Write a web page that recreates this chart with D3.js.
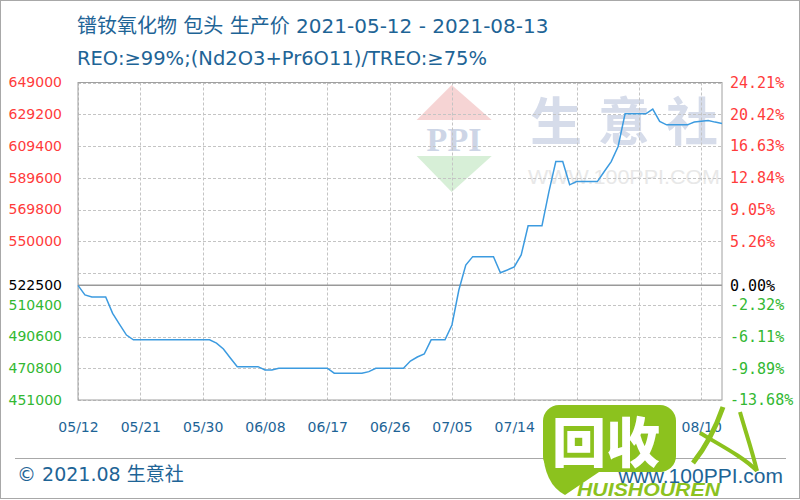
<!DOCTYPE html>
<html><head><meta charset="utf-8">
<script src="https://cdn.jsdelivr.net/npm/d3@7"></script>
<style>body{margin:0;background:#fff} svg{display:block}</style>
</head><body>
<svg id="c" width="800" height="500"></svg>
<script>
const dates = [
"05-12","05-13","05-14","05-15","05-16","05-17","05-18","05-19","05-20","05-21","05-22","05-23","05-24","05-25","05-26","05-27","05-28","05-29","05-30","05-31",
"06-01","06-02","06-03","06-04","06-05","06-06","06-07","06-08","06-09","06-10","06-11","06-12","06-13","06-14","06-15","06-16","06-17","06-18","06-19","06-20","06-21","06-22","06-23","06-24","06-25","06-26","06-27","06-28","06-29","06-30",
"07-01","07-02","07-03","07-04","07-05","07-06","07-07","07-08","07-09","07-10","07-11","07-12","07-13","07-14","07-15","07-16","07-17","07-18","07-19","07-20","07-21","07-22","07-23","07-24","07-25","07-26","07-27","07-28","07-29","07-30","07-31",
"08-01","08-02","08-03","08-04","08-05","08-06","08-07","08-08","08-09","08-10","08-11","08-12","08-13"];
const prices = [
522500,516500,515300,515300,515300,
505000,498100,491500,488500,
488500,488500,488500,488500,488500,488500,488500,488500,488500,488500,488500,
486500,482800,477200,471800,
471800,471800,471800,
469700,469700,
470800,470800,470800,470800,470800,470800,470800,470800,
467700,467700,467700,467700,467700,
468700,
470800,470800,470800,470800,470800,
475300,477800,479700,
488500,488500,488500,
497800,519600,535200,540400,
540400,540400,540400,
530400,532100,534000,541500,
559600,559600,559600,
580800,599700,599700,
585200,
587200,587200,587200,587200,
593500,599700,609100,
629500,629500,629500,629500,
632400,
624700,
622600,622600,622600,622600,
624300,624800,625300,624300,623500];
const basePrice = 522500;
const yTickValues = [451000,470800,490600,510400,522500,550000,569800,589600,609400,629200,649000];
const yGridValues = [451000,470800,490600,510400,530200,550000,569800,589600,609400,629200,649000];
const xTickLabels = ["05/12","05/21","05/30","06/08","06/17","06/26","07/05","07/14","07/23","08/01","08/10"];
const titleText = "镨钕氧化物 包头 生产价 2021-05-12 - 2021-08-13";
const subtitleText = "REO:≥99%;(Nd2O3+Pr6O11)/TREO:≥75%";
const footerText = "© 2021.08 生意社";
const siteText = "www.100PPI.com";

const svg = d3.select("#c");
const L = 78, R = 722, T = 82.5, B = 400;
const parse = d3.timeParse("%Y-%m-%d");
const dx = dates.map(d => parse("2021-" + d));
const x = d3.scaleTime().domain([dx[0], dx[dx.length-1]]).range([L, R]);
const y = d3.scaleLinear().domain([451000, 649000]).range([B, T]);
const xTickDates = xTickLabels.map(s => parse("2021-" + s.replace("/", "-")));

const blue = "#1e6496";
const mixFont = "'DejaVu Sans', 'Noto Sans CJK SC', sans-serif";
// outer border
svg.append("rect").attr("x",0.5).attr("y",0.5).attr("width",799).attr("height",498)
  .attr("fill","#fff").attr("stroke","#a8a8a8");

// title
svg.append("text").attr("x",77).attr("y",33).attr("fill",blue)
  .style("font-family",mixFont).style("font-size","20px").text(titleText);
svg.append("text").attr("x",77).attr("y",65).attr("fill",blue)
  .style("font-family",mixFont).style("font-size","19.5px").text(subtitleText);

// watermark
const wm = svg.append("g");
wm.append("path").attr("d","M451.7,85 L491.7,120 L416.7,120 Z").attr("fill","#f6d4d4");
wm.append("path").attr("d","M416.7,156 L491.7,156 L451.7,192 Z").attr("fill","#d7efd7");
wm.append("text").attr("x",454).attr("y",151).attr("text-anchor","middle").attr("fill","#cdd5e6")
  .style("font-family","'Liberation Serif', serif").style("font-weight","bold").style("font-size","34px").text("PPI");
wm.append("text").attr("x",530).attr("y",141).attr("fill","#d6dcea")
  .style("font-family","'Noto Sans CJK SC', sans-serif").style("font-weight","bold").style("font-size","52px")
  .style("letter-spacing","16px").text("生意社");
wm.append("text").attr("x",528).attr("y",184).attr("fill","#e8e8e8")
  .attr("textLength",192).attr("lengthAdjust","spacingAndGlyphs")
  .style("font-family","'Liberation Sans', sans-serif").style("font-size","21px").text("WWW.100PPI.COM");

// grid
svg.append("g").selectAll("line").data(yGridValues).join("line")
  .attr("x1",L).attr("x2",R).attr("y1",d=>Math.round(y(d))+0.5).attr("y2",d=>Math.round(y(d))+0.5)
  .attr("stroke","#c4c4c4").attr("stroke-dasharray","3,2");
svg.append("g").selectAll("line").data(xTickDates).join("line")
  .attr("y1",T).attr("y2",B).attr("x1",d=>Math.round(x(d))+0.5).attr("x2",d=>Math.round(x(d))+0.5)
  .attr("stroke","#c4c4c4").attr("stroke-dasharray","3,2");
// base line
svg.append("line").attr("x1",L).attr("x2",R).attr("y1",y(basePrice)).attr("y2",y(basePrice))
  .attr("stroke","#999").attr("stroke-width",1.5);
// plot border
svg.append("rect").attr("x",L).attr("y",T).attr("width",R-L).attr("height",B-T)
  .attr("fill","none").attr("stroke","#a0a0a0");

// line
const line = d3.line().x((d,i)=>x(dx[i])).y(d=>y(d));
svg.append("path").datum(prices).attr("d",line).attr("fill","none")
  .attr("stroke","#3c9be0").attr("stroke-width",1.5);

const col = v => v > basePrice ? "#ff3c3c" : (v < basePrice ? "#33b833" : "#000");
// left axis
const ax = svg.append("g").attr("transform",`translate(${L},0)`)
  .call(d3.axisLeft(y).tickValues(yTickValues).tickSize(0).tickPadding(16).tickFormat(d3.format("d")));
ax.select(".domain").remove();
ax.selectAll("text").attr("fill",d=>col(d)).style("font-family","'DejaVu Sans', sans-serif").style("font-size","14px");
// right axis
const ar = svg.append("g").attr("transform",`translate(${R},0)`)
  .call(d3.axisRight(y).tickValues(yTickValues).tickSize(0).tickPadding(8)
    .tickFormat(d => ((d-basePrice)/basePrice*100).toFixed(2) + "%"));
ar.select(".domain").remove();
ar.selectAll("text").attr("fill",d=>col(d)).style("font-family","'DejaVu Sans Mono', monospace").style("font-size","15px");
// bottom axis
const ab = svg.append("g").attr("transform",`translate(0,${B})`)
  .call(d3.axisBottom(x).tickValues(xTickDates).tickSize(0).tickPadding(22).tickFormat(d3.timeFormat("%m/%d")));
ab.select(".domain").remove();
ab.selectAll("text").attr("fill",blue).style("font-family","'DejaVu Sans', sans-serif").style("font-size","14px");

// footer
svg.append("line").attr("x1",15).attr("x2",786).attr("y1",458.5).attr("y2",458.5).attr("stroke","#a8a8a8");
svg.append("text").attr("x",17).attr("y",481).attr("fill",blue)
  .style("font-family",mixFont).style("font-size","19px").text(footerText);

// overlay logo (回收人)
const g = "#8cc21e";
const lg = svg.append("g");
lg.append("rect").attr("x",543).attr("y",405).attr("width",133).attr("height",67).attr("rx",16).attr("fill",g);
lg.append("path").attr("d","M543,450 Q544,484 565,495 L602,470 Z").attr("fill",g);
lg.append("text").attr("x",552).attr("y",463).attr("fill","#fff")
  .style("font-family","'Noto Sans CJK SC', sans-serif").style("font-weight","900").style("font-size","54px").text("回收");
lg.append("path").attr("d","M723,407 C715,430 705,448 693,463").attr("fill","none").attr("stroke",g).attr("stroke-width",5);
lg.append("path").attr("d","M700,433 C720,445 745,458 757,471").attr("fill","none").attr("stroke",g).attr("stroke-width",4);
lg.append("path").attr("d","M740,412 C745,430 752,450 757,471").attr("fill","none").attr("stroke",g).attr("stroke-width",4);
svg.append("text").attr("x",783).attr("y",483).attr("text-anchor","end").attr("fill",blue)
  .style("font-family","'Liberation Sans', sans-serif").style("font-size","21px").text(siteText);
lg.append("text").attr("x",577).attr("y",496).attr("fill",g)
  .attr("textLength",143).attr("lengthAdjust","spacingAndGlyphs")
  .style("font-family","'Liberation Sans', sans-serif").style("font-weight","bold").style("font-style","italic")
  .style("font-size","18px").text("HUISHOUREN");
</script>
</body></html>
